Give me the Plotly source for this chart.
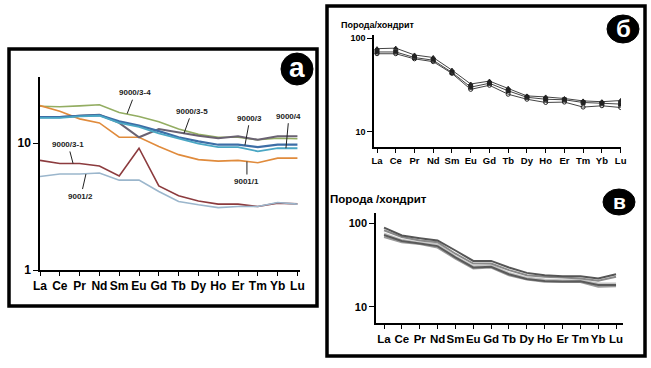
import math
import plotly.graph_objects as go

W, H = 651, 368
elements = ["La", "Ce", "Pr", "Nd", "Sm", "Eu", "Gd", "Tb", "Dy", "Ho", "Er", "Tm", "Yb", "Lu"]
xi = list(range(len(elements)))

# Panel a series (rock / chondrite)
a_9000_3_4 = [19.5, 19.3, 19.6, 20.0, 17.4, 16.2, 14.7, 12.9, 11.7, 11.1, 11.1, 10.6, 10.9, 10.8]
a_9000_3_5 = [16.0, 16.0, 16.4, 16.7, 14.4, 11.1, 12.9, 12.1, 11.4, 10.9, 11.3, 10.6, 11.3, 11.3]
a_9000_3 = [16.0, 16.0, 16.4, 16.6, 14.8, 13.7, 12.4, 11.1, 10.3, 9.7, 9.7, 9.3, 9.7, 9.7]
a_9000_4 = [15.8, 15.8, 16.2, 16.4, 14.4, 13.4, 11.9, 10.8, 9.9, 9.3, 9.3, 8.6, 9.1, 9.1]
a_9001_1 = [19.7, 17.8, 15.5, 14.4, 11.1, 11.1, 9.4, 8.1, 7.4, 7.2, 7.3, 7.0, 7.6, 7.6]
a_9000_3_1 = [7.3, 6.9, 6.9, 6.6, 5.5, 9.1, 4.6, 3.84, 3.5, 3.3, 3.3, 3.16, 3.36, 3.32]
a_9001_2 = [5.45, 5.7, 5.7, 5.8, 5.1, 5.1, 4.15, 3.46, 3.26, 3.1, 3.16, 3.16, 3.4, 3.3]

# Panel б series
b_s1 = [77, 78, 66, 62, 45.5, 32.4, 34.8, 29.2, 24.2, 23.6, 22.7, 21.4, 21.0, 21.6]
b_s2 = [71, 71, 62, 58, 43.0, 30.0, 33.0, 27.4, 23.4, 22.3, 22.0, 20.6, 20.2, 19.8]
b_s3 = [68, 68, 60, 56, 42.0, 28.4, 31.4, 25.2, 22.3, 20.6, 20.8, 18.4, 19.0, 18.2]

# Panel в series
v_1 = [88, 71, 66, 62, 47.0, 35.3, 35.3, 29.4, 25.4, 23.8, 23.2, 23.2, 21.7, 24.5]
v_2 = [82, 68, 62, 59, 43.0, 32.8, 32.8, 27.4, 23.8, 22.8, 22.3, 21.7, 20.4, 22.8]
v_3 = [75, 63, 58, 56, 40.0, 30.5, 31.3, 25.4, 22.3, 21.1, 20.8, 20.8, 19.0, 19.0]
v_4 = [68, 59, 56, 51, 37.6, 28.6, 29.4, 23.8, 21.1, 19.9, 19.7, 19.7, 17.3, 17.6]
v_5 = [72, 61, 57, 53, 39.0, 29.5, 30.0, 24.5, 21.5, 20.3, 20.0, 20.2, 18.2, 18.2]

a_series = [
    ("9000/3-4", a_9000_3_4, "#93ad62", 1.6),
    ("9001/1", a_9001_1, "#e08b3c", 1.6),
    ("9000/3-5", a_9000_3_5, "#6a6272", 2.0),
    ("9000/3", a_9000_3, "#3d6ea6", 2.2),
    ("9000/4", a_9000_4, "#4aa7c4", 1.8),
    ("9000/3-1", a_9000_3_1, "#8c3b3e", 1.6),
    ("9001/2", a_9001_2, "#9bb6cc", 1.6),
]

fig = go.Figure()
for name, ys, col, w in a_series:
    fig.add_trace(go.Scatter(x=xi, y=ys, mode="lines", name=name,
                             line=dict(color=col, width=w), xaxis="x", yaxis="y"))

for ys, sym in [(b_s1, "triangle-up"), (b_s2, "square"), (b_s3, "circle-open")]:
    fig.add_trace(go.Scatter(x=xi, y=ys, mode="lines+markers",
                             line=dict(color="#444444", width=1),
                             marker=dict(symbol=sym, size=4, color="#222222",
                                         line=dict(color="#222222", width=1)),
                             xaxis="x2", yaxis="y2"))

for ys, col in [(v_4, "#9a9a9a"), (v_3, "#c4c4c4"), (v_5, "#5a5a5a"), (v_2, "#8a8a8a"), (v_1, "#555555")]:
    fig.add_trace(go.Scatter(x=xi, y=ys, mode="lines", line=dict(color=col, width=2),
                             xaxis="x3", yaxis="y3"))

def px_x(p):
    return p / W

def px_y(p):
    return 1 - p / H

bold = "Liberation Sans"

def xaxis(domain, rng, anchor, size):
    return dict(domain=domain, range=rng, anchor=anchor, tickmode="array", tickvals=xi,
                ticktext=elements, showgrid=False, zeroline=False, showline=True, tickangle=0,
                automargin=False,
                linecolor="black", linewidth=1.5, ticks="outside", ticklen=4,
                tickcolor="black", tickfont=dict(family=bold, size=size, color="black", weight="bold"))

def yaxis(domain, rng, anchor, vals, size):
    return dict(domain=domain, range=rng, anchor=anchor, type="log", tickmode="array",
                tickvals=vals, ticktext=[str(v) for v in vals], showgrid=False, zeroline=False,
                automargin=False,
                showline=True, linecolor="black", linewidth=1.5, ticks="outside", ticklen=5,
                tickcolor="black", tickfont=dict(family=bold, size=size, color="black", weight="bold"))

fig.update_layout(
    width=W, height=H, margin=dict(l=0, r=0, t=0, b=0, autoexpand=False),
    paper_bgcolor="white", plot_bgcolor="rgba(0,0,0,0)", showlegend=False,
    xaxis=xaxis([px_x(40), px_x(300)], [0, 13.13], "y", 12),
    yaxis=yaxis([px_y(270), px_y(77)], [0, 1.52], "x", [1, 10], 12),
    xaxis2=xaxis([px_x(374), px_x(621)], [-0.16, 13.02], "y2", 9.5),
    yaxis2=yaxis([px_y(147), px_y(35)], [0.84, 2.032], "x2", [10, 100], 9),
    xaxis3=xaxis([px_x(376), px_x(623)], [-0.45, 13.39], "y3", 11.5),
    yaxis3=yaxis([px_y(323), px_y(213)], [0.806, 2.12], "x3", [10, 100], 11),
)

shapes = [
    dict(type="rect", xref="paper", yref="paper", x0=px_x(9), x1=px_x(317), y0=px_y(306), y1=px_y(49),
         line=dict(color="black", width=3.5)),
    dict(type="rect", xref="paper", yref="paper", x0=px_x(327), x1=px_x(645), y0=px_y(356), y1=px_y(6),
         line=dict(color="black", width=3.5)),
]
circles = [("а", 297, 69, 16, 16, 28), ("б", 623, 29, 16, 14, 24), ("в", 619, 202, 16, 13, 21)]
annotations = []
for letter, cx, cy, rx, ry, fs in circles:
    shapes.append(dict(type="circle", xref="paper", yref="paper", x0=px_x(cx - rx), x1=px_x(cx + rx),
                       y0=px_y(cy + ry), y1=px_y(cy - ry), fillcolor="black", layer="below",
                       line=dict(color="black", width=1)))
    annotations.append(dict(text=letter, xref="paper", yref="paper", x=px_x(cx), y=px_y(cy - 1),
                            xanchor="center", yanchor="middle",
                            showarrow=False, font=dict(family=bold, size=fs, color="white", weight="bold")))

labels = [
    ("9000/3-4", 4.4, 17.0, 8, -21),
    ("9000/3-5", 7.27, 11.9, 8, -22),
    ("9000/3", 10.35, 9.6, 5, -27),
    ("9000/4", 12.42, 9.1, 3, -32),
    ("9001/1", 10.45, 7.15, 0, 20),
    ("9000/3-1", 1.67, 6.9, -5, -19),
    ("9001/2", 2.32, 5.7, -5, 22),
]
for txt, lx, ly, ax, ay in labels:
    annotations.append(dict(text=txt, xref="x", yref="y", x=lx, y=math.log10(ly), ax=ax, ay=ay,
                            showarrow=True, arrowhead=0, arrowwidth=1, arrowcolor="#222222",
                            standoff=0, startstandoff=1,
                            font=dict(family=bold, size=8, color="#222222", weight="bold")))

annotations.append(dict(text="Порода/хондрит", xref="paper", yref="paper", x=px_x(378), y=px_y(25),
                        xanchor="center", yanchor="middle",
                        showarrow=False, font=dict(family=bold, size=9, color="black", weight="bold")))
annotations.append(dict(text="Порода /хондрит", xref="paper", yref="paper", x=px_x(378), y=px_y(199),
                        xanchor="center", yanchor="middle",
                        showarrow=False, font=dict(family=bold, size=11.5, color="black", weight="bold")))

fig.update_layout(shapes=shapes, annotations=annotations)
fig.write_html("out.html", config={"displayModeBar": False},
               post_script="document.body.style.margin='0px';")
